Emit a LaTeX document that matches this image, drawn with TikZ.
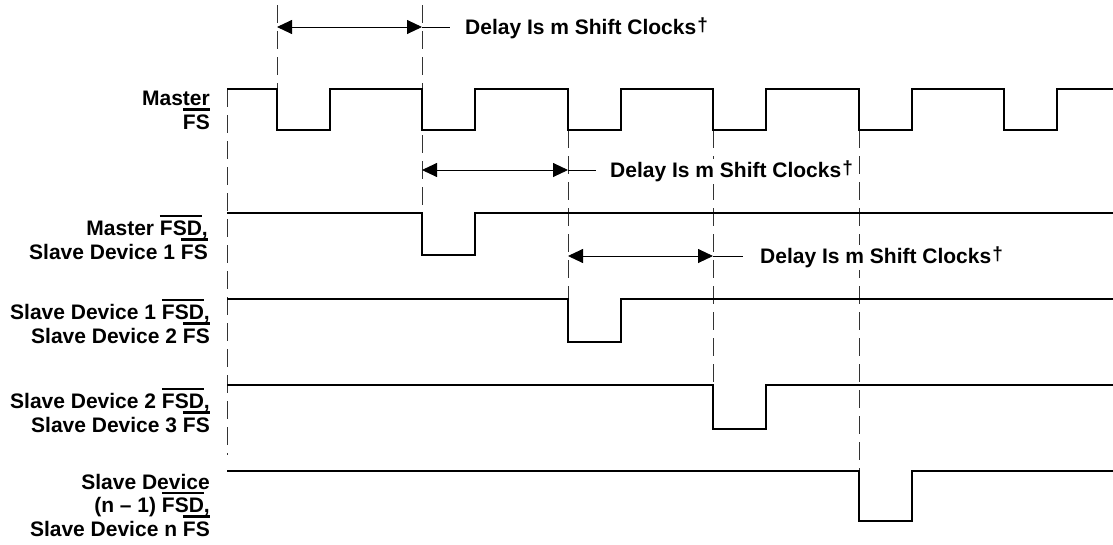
\documentclass[tikz,border=0pt]{standalone}
\usepackage{fontspec}
\setmainfont{Liberation Sans}
\usetikzlibrary{arrows.meta}
\newcommand\ovl[1]{\setbox0=\hbox{#1}\rlap{\smash{\raisebox{\dimexpr\ht0+3.5pt\relax}{\rule{\wd0}{2.6pt}}}}\box0}
\newcommand\dagsup{\kern1pt\raisebox{3pt}{\fontsize{19}{19}\selectfont †}}
\begin{document}
\begin{tikzpicture}[x=1pt,y=-1pt,
  sig/.style={line width=2.8pt, line join=miter},
  gridln/.style={line width=1pt, dash pattern=on 18pt off 8pt, black!80},
  dim/.style={line width=0.9pt, {Triangle[length=15pt,width=14pt]}-{Triangle[length=15pt,width=14pt]}},
  ext/.style={line width=0.9pt},
  lbl/.style={font=\fontsize{21}{23.5}\selectfont\bfseries, align=right, anchor=base east, inner sep=0pt},
  note/.style={font=\fontsize{21}{24}\selectfont\bfseries, anchor=base west, inner xsep=0pt, inner ysep=2pt, fill=white}]
\useasboundingbox (0,0) rectangle (1113,544);

% dashed reference lines
\draw[gridln] (227,89) -- (227,455);
\draw[gridln] (277,5) -- (277,89);
\draw[gridln] (422,5) -- (422,213);
\draw[gridln] (568,130) -- (568,299);
\draw[gridln] (713,130) -- (713,385);
\draw[gridln] (859,130) -- (859,471);

% waveforms
\draw[sig] (227,89) -- (277,89) |- (330,130) |- (422,89) |- (475,130) |- (568,89) |- (621,130)
  |- (713,89) |- (766,130) |- (859,89) |- (912,130) |- (1004,89) |- (1057,130) |- (1113,89);
\draw[sig] (227,213) -- (422,213) |- (475,255) |- (1113,213);
\draw[sig] (227,299) -- (568,299) |- (621,342) |- (1113,299);
\draw[sig] (227,385) -- (713,385) |- (766,429) |- (1113,385);
\draw[sig] (227,471) -- (859,471) |- (912,521) |- (1113,471);

% labels (anchor = baseline of last line)
\node[lbl] (l1) at (210,129) {Master\\\ovl{FS}};
\node[lbl] (l2) at (208,259) {Master \ovl{FSD},\\Slave Device 1 \ovl{FS}};
\node[lbl] (l3) at (210,343) {Slave Device 1 \ovl{FSD},\\Slave Device 2 \ovl{FS}};
\node[lbl] (l4) at (210,432) {Slave Device 2 \ovl{FSD},\\Slave Device 3 \ovl{FS}};
\node[lbl] (l5) at (210,536) {Slave Device\\(n – 1) \ovl{FSD},\\Slave Device n \ovl{FS}};

% delay dimensions
\coordinate (a1) at (277,27); \coordinate (b1) at (422,27); \coordinate (e1) at (450,27);
\coordinate (a2) at (422,170); \coordinate (b2) at (568,170); \coordinate (e2) at (596,170);
\coordinate (a3) at (568,256); \coordinate (b3) at (713,256); \coordinate (e3) at (743,256);
\draw[dim] (a1) -- (b1); \draw[ext] (b1) -- (e1);
\draw[dim] (a2) -- (b2); \draw[ext] (b2) -- (e2);
\draw[dim] (a3) -- (b3); \draw[ext] (b3) -- (e3);
\node[note] (t1) at (465,34.5) {Delay Is m Shift Clocks\dagsup};
\node[note] (t2) at (610,177.5) {Delay Is m Shift Clocks\dagsup};
\node[note] (t3) at (760,263.5) {Delay Is m Shift Clocks\dagsup};
\end{tikzpicture}
\end{document}
